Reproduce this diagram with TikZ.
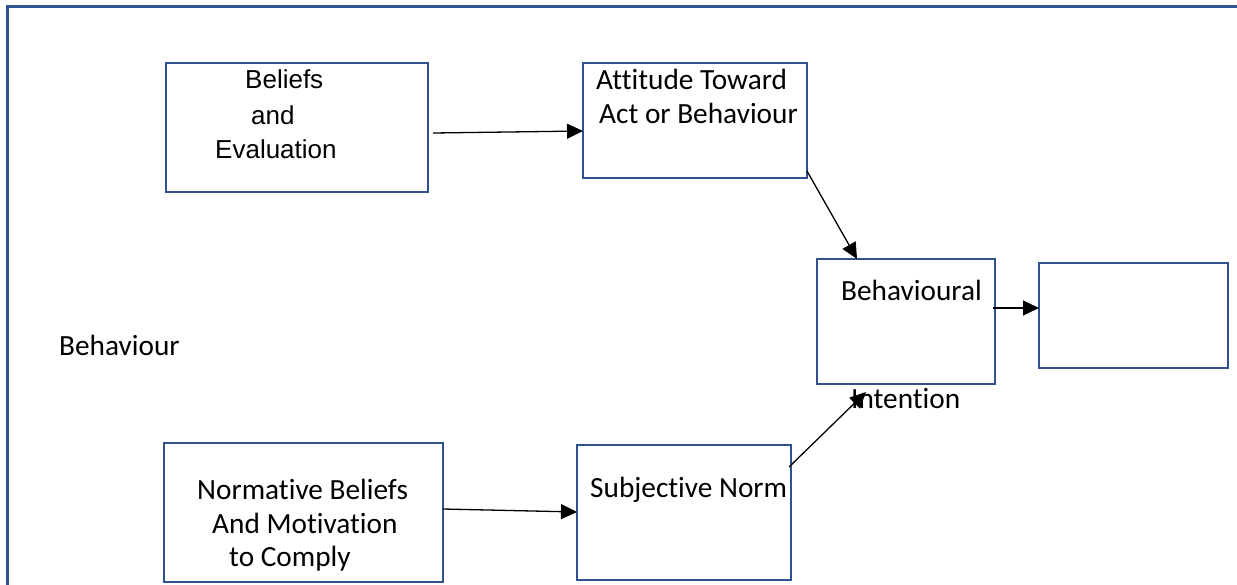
\documentclass[tikz,border=0pt]{standalone}
\usepackage{fontspec}
\setmainfont[Ligatures={NoCommon}]{Carlito}
\newfontfamily\arialfont{Liberation Sans}
\usetikzlibrary{arrows.meta,calc}
\definecolor{outline}{RGB}{47,82,143}
\begin{document}
\begin{tikzpicture}[x=1pt,y=-1pt,
  box/.style={draw=outline,line width=2.6pt,inner sep=0pt,outer sep=0pt},
  frame/.style={draw=outline,line width=3pt},
  lbl/.style={anchor=base west,inner sep=0pt,font=\fontsize{29.3}{35}\selectfont},
  albl/.style={anchor=base west,inner sep=0pt,font=\arialfont\fontsize{26}{31}\selectfont},
  arr/.style={line width=1.3pt,-{Triangle[length=16pt,width=15pt]}}]
\useasboundingbox (0,0) rectangle (1237,584);
% outer frame (right and bottom sides run past the page)
\draw[frame] (1245,6) -- (7,6) -- (7,595);
% boxes
\node[box,minimum width=262,minimum height=129] (bel) at (297,127.5) {};
\node[box,minimum width=224,minimum height=115] (att) at (695,120.5) {};
\node[box,minimum width=178,minimum height=125] (bi)  at (906,321.5) {};
\node[box,minimum width=189,minimum height=105] (res) at (1133.5,315.5) {};
\node[box,minimum width=279,minimum height=139] (nb)  at (303.5,512.5) {};
\node[box,minimum width=214,minimum height=135] (sn)  at (684,512.5) {};
% texts
\node[albl] (t1) at (245,88) {Beliefs};
\node[albl] (t2) at (251,124) {and};
\node[albl] (t3) at (215,158) {Evaluation};
\node[lbl] (t4) at (596,89) {Attitude Toward};
\node[lbl] (t5) at (599,123) {Act or Behaviour};
\node[lbl] (t6) at (841,300) {Behavioural};
\node[lbl] (t7) at (851,408) {Intention};
\node[lbl] (t8) at (59,355) {Behaviour};
\node[lbl] (t9) at (197,499) {Normative Beliefs};
\node[lbl] (t10) at (212,533) {And Motivation};
\node[lbl] (t11) at (229,566) {to Comply};
\node[lbl] (t12) at (590,497) {Subjective Norm};
% connectors
\draw[arr] ($(bel.east)+(5,5.5)$) -- ($(att.west)+(0,10.5)$);
\draw[arr] ($(att.south east)+(0,-7)$) -- ($(bi.north west)+(40,0)$);
\draw[arr] ($(bi.east)+(-2,-13.5)$) -- ($(res.west)+(0,-7.5)$);
\draw[arr] ($(nb.east)+(0,-3.5)$) -- ($(sn.west)+(0,-0.5)$);
\draw[arr] ($(sn.north east)+(-2,22)$) -- ($(bi.south west)+(49,8)$);
\end{tikzpicture}
\end{document}
